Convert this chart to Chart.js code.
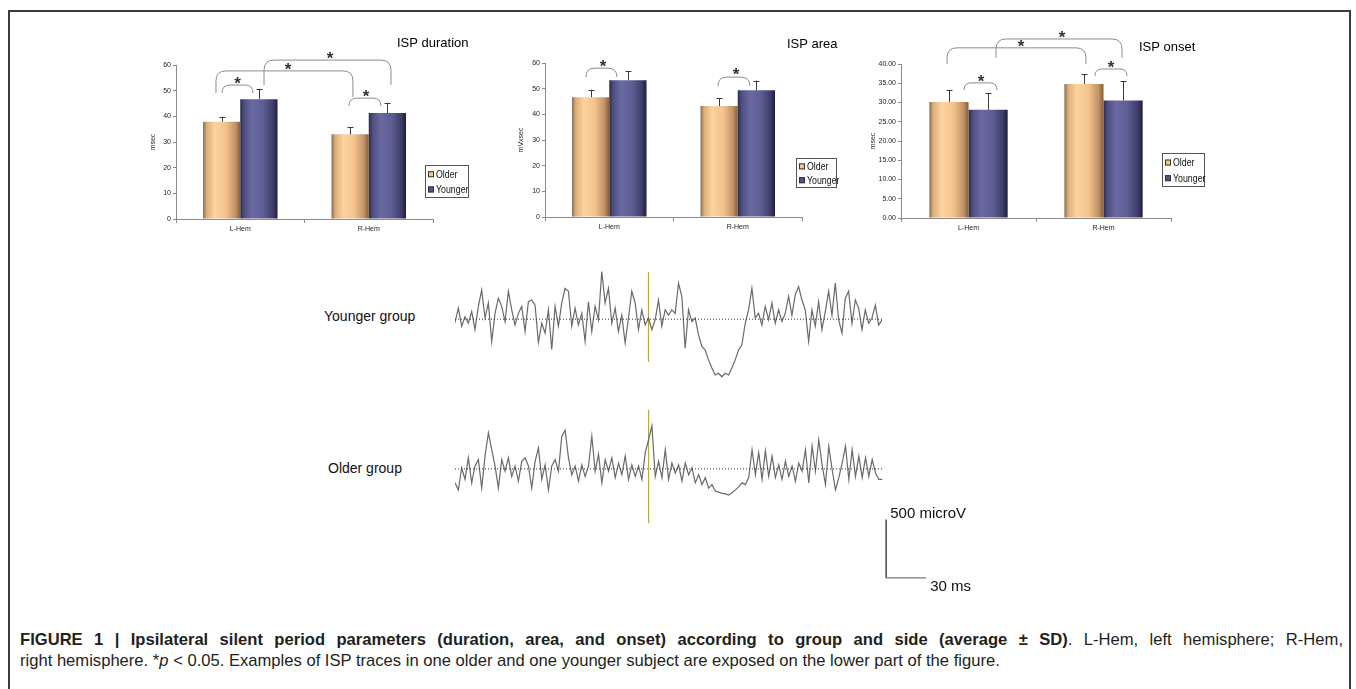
<!DOCTYPE html>
<html><head><meta charset="utf-8">
<script src="https://cdn.jsdelivr.net/npm/chart.js@4.4.1/dist/chart.umd.min.js"></script>
<style>
html,body{margin:0;padding:0;background:#fff;width:1356px;height:689px;overflow:hidden;font-family:"Liberation Sans",Arial,sans-serif;}
#frame{position:absolute;left:8px;top:10px;width:1343px;height:700px;border:2px solid #3c3c3c;box-sizing:border-box;}
.c{position:absolute;}
.lbl{position:absolute;font-size:14px;color:#111;white-space:nowrap;line-height:16px;}
.cap{position:absolute;left:20px;font-size:16.6px;color:#231f20;white-space:nowrap;line-height:19px;}
#cap1{width:1323px;text-align:justify;text-align-last:justify;white-space:normal;}
</style></head>
<body>
<div id="frame"></div>
<canvas id="c1" class="c" width="340" height="220" style="left:140px;top:20px"></canvas>
<canvas id="c2" class="c" width="340" height="220" style="left:505px;top:20px"></canvas>
<canvas id="c3" class="c" width="370" height="230" style="left:850px;top:10px"></canvas>
<canvas id="t1" class="c" width="427" height="128" style="left:455px;top:261px"></canvas>
<canvas id="t2" class="c" width="534" height="191" style="left:455px;top:406px"></canvas>
<div class="lbl" style="left:324px;top:308px">Younger group</div>
<div class="lbl" style="left:328px;top:460px">Older group</div>
<div id="cap1" class="cap" style="top:630px"><b>FIGURE 1 | Ipsilateral silent period parameters (duration, area, and onset) according to group and side (average ± SD)</b>. L-Hem, left hemisphere; R-Hem,</div>
<div class="cap" style="top:651px">right hemisphere. *<i>p</i> &lt; 0.05. Examples of ISP traces in one older and one younger subject are exposed on the lower part of the figure.</div>
<script>
// ---------- data ----------
const categories = ['L-Hem', 'R-Hem'];
const seriesNames = ['Older', 'Younger'];

const durationOlder = [37.9, 33.0];
const durationOlderSD = [2.0, 2.7];
const durationYounger = [46.7, 41.3];
const durationYoungerSD = [3.8, 4.0];
const durationTicks = [0, 10, 20, 30, 40, 50, 60];
const durationTickLabels = ['0', '10', '20', '30', '40', '50', '60'];

const areaOlder = [46.7, 43.2];
const areaOlderSD = [2.9, 3.0];
const areaYounger = [53.3, 49.4];
const areaYoungerSD = [3.6, 3.7];
const areaTicks = [0, 10, 20, 30, 40, 50, 60];
const areaTickLabels = ['0', '10', '20', '30', '40', '50', '60'];

const onsetOlder = [30.1, 34.8];
const onsetOlderSD = [3.2, 2.5];
const onsetYounger = [28.1, 30.5];
const onsetYoungerSD = [4.3, 5.1];
const onsetTicks = [0, 5, 10, 15, 20, 25, 30, 35, 40];
const onsetTickLabels = ['0.00', '5.00', '10.00', '15.00', '20.00', '25.00', '30.00', '35.00', '40.00'];

// EMG traces (microV), one sample every 2.5 ms
const traceStepMs = 2.5;
const youngerTrace = [-30,95,-60,20,-35,65,-90,110,250,10,
 140,-190,50,180,110,-20,240,80,-50,50,
 110,-105,150,165,120,-200,-35,-120,80,-260,
 110,-60,140,265,240,-60,95,-50,50,-190,
 150,-105,110,-5,410,140,265,-35,95,-105,
 35,-205,10,240,140,-90,80,-50,10,-90,
 -5,165,-60,80,35,80,50,310,195,-250,
 80,-20,10,-135,-235,-265,-350,-420,-480,-465,
 -495,-465,-480,-420,-350,-265,-220,-35,80,265,
 10,50,-50,110,-5,140,-35,80,-20,50,
 195,35,210,280,165,80,-190,80,-60,150,
 -90,65,240,35,310,-5,-120,180,240,-35,
 165,95,-90,80,-35,10,120,-50,-5];
const olderTrace = [-120,-180,10,-90,95,-120,25,80,-165,110,
 310,165,25,-165,80,-20,95,-65,25,-105,
 65,95,25,-165,65,180,-90,35,-180,25,
 80,-20,280,333,95,-50,25,-105,35,-65,
 25,280,-20,125,-120,80,-20,95,-75,50,
 -50,110,-90,35,-65,25,-90,140,250,370,
 -65,65,-75,165,-90,50,-35,35,-105,50,
 -50,10,-120,-50,-135,-75,-165,-135,-190,-200,
 -210,-215,-225,-205,-180,-155,-120,-135,-75,165,
 -50,140,-90,155,-65,110,-75,35,-90,65,
 -65,25,-105,50,-20,165,-120,195,-20,250,
 35,-135,195,-5,-180,-75,50,195,-90,165,
 -65,110,-75,95,-65,80,-35,-90,-90];
const stimulusMs = 145;
const youngerStimLine = [404, -369];
const olderStimLine = [507, -464];
const scaleBarMicroV = 500;
const scaleBarMs = 30;

// ---------- styles ----------
Chart.defaults.font.family = '"Liberation Sans", Arial, sans-serif';
Chart.defaults.animation = false;
const CAT_PCT = 0.58;
const olderStops = [[0,'#8f6d4a'],[0.1,'#dcae7a'],[0.32,'#fdd3a0'],[0.62,'#f3c28c'],[0.88,'#c09064'],[1,'#7d5f40']];
const youngerStops = [[0,'#2b2b4c'],[0.1,'#4d4d82'],[0.32,'#6a6aa2'],[0.62,'#5d5d94'],[0.88,'#3d3d68'],[1,'#1f1f36']];
const legendColors = ['#f7c68e', '#55558c'];

function barGradient(c, stops) {
  const chart = c.chart, ca = chart.chartArea;
  if (!ca || c.dataIndex === undefined) return stops[2][1];
  const xs = chart.scales.x;
  const center = xs.getPixelForValue(c.dataIndex);
  const catW = (ca.right - ca.left) / chart.data.labels.length;
  const bw = catW * CAT_PCT / 2;
  const left = c.datasetIndex === 0 ? center - bw : center;
  const g = chart.ctx.createLinearGradient(left, 0, left + bw, 0);
  stops.forEach(s => g.addColorStop(s[0], s[1]));
  return g;
}

const barDecor = {
  id: 'barDecor',
  afterDatasetsDraw(chart, args, opts) {
    const ctx = chart.ctx, xs = chart.scales.x, ys = chart.scales.y;
    ctx.save();
    // error bars
    ctx.strokeStyle = '#3a3a3a'; ctx.lineWidth = 1;
    chart.data.datasets.forEach((ds, di) => {
      chart.getDatasetMeta(di).data.forEach((el, i) => {
        const top = ys.getPixelForValue(ds.data[i] + ds.sd[i]);
        const x = Math.round(el.x) + 0.5;
        ctx.beginPath(); ctx.moveTo(x, el.y); ctx.lineTo(x, top);
        ctx.moveTo(x - 3, Math.round(top) + 0.5); ctx.lineTo(x + 3, Math.round(top) + 0.5); ctx.stroke();
      });
    });
    // significance brackets
    ctx.strokeStyle = '#8c8c8c'; ctx.lineWidth = 1;
    (opts.brackets || []).forEach(b => {
      const x1 = xs.getPixelForValue(b[0]), x2 = xs.getPixelForValue(b[1]);
      const yb1 = ys.getPixelForValue(b[2]), yt = ys.getPixelForValue(b[3]), yb2 = ys.getPixelForValue(b[4]);
      const r1 = Math.min(10, yb1 - yt, (x2 - x1) / 2), r2 = Math.min(10, yb2 - yt, (x2 - x1) / 2);
      ctx.beginPath(); ctx.moveTo(x1, yb1); ctx.lineTo(x1, yt + r1);
      ctx.quadraticCurveTo(x1, yt, x1 + r1, yt); ctx.lineTo(x2 - r2, yt);
      ctx.quadraticCurveTo(x2, yt, x2, yt + r2); ctx.lineTo(x2, yb2); ctx.stroke();
      ctx.fillStyle = '#333'; ctx.font = 'bold 17px "Liberation Sans", Arial';
      ctx.textAlign = 'center'; ctx.textBaseline = 'alphabetic';
      ctx.fillText('*', xs.getPixelForValue(b[5]), ys.getPixelForValue(b[6]) + 0.57 * 17);
    });
    // title
    if (opts.title) {
      ctx.fillStyle = '#000'; ctx.font = '13px "Liberation Sans", Arial';
      ctx.textAlign = 'left'; ctx.textBaseline = 'middle';
      ctx.fillText(opts.title.text, opts.title.x, opts.title.y);
    }
    // legend box
    if (opts.legend) {
      const L = opts.legend;
      ctx.fillStyle = '#fff'; ctx.fillRect(L.x, L.y, L.w, L.h);
      ctx.strokeStyle = '#555'; ctx.lineWidth = 1;
      ctx.strokeRect(L.x + 0.5, L.y + 0.5, L.w - 1, L.h - 1);
      chart.data.datasets.forEach((ds, di) => {
        const cy = L.y + L.h * (di === 0 ? 0.28 : 0.74);
        ctx.fillStyle = legendColors[di];
        ctx.fillRect(L.x + 3, cy - 3, 6, 6);
        ctx.strokeStyle = '#333'; ctx.strokeRect(L.x + 3.5, cy - 2.5, 5, 5);
        ctx.save();
        ctx.translate(L.x + 11, cy + 0.5);
        ctx.scale(0.8, 1);
        ctx.font = '11px "Liberation Sans", Arial';
        ctx.textAlign = 'left'; ctx.textBaseline = 'middle';
        ctx.fillStyle = '#111'; ctx.fillText(ds.label, 0, 0);
        ctx.restore();
      });
    }
    ctx.restore();
  }
};

function makeBar(id, older, olderSD, younger, youngerSD, tickVals, tickLabels, yMax, yTitle, pad, yWidth, deco) {
  return new Chart(document.getElementById(id), {
    type: 'bar',
    data: {
      labels: categories,
      datasets: [
        { label: seriesNames[0], data: older, sd: olderSD, backgroundColor: c => barGradient(c, olderStops), borderWidth: 0, categoryPercentage: CAT_PCT, barPercentage: 1 },
        { label: seriesNames[1], data: younger, sd: youngerSD, backgroundColor: c => barGradient(c, youngerStops), borderWidth: 0, categoryPercentage: CAT_PCT, barPercentage: 1 }
      ]
    },
    options: {
      responsive: false, devicePixelRatio: 1, animation: false,
      layout: { padding: pad },
      plugins: { legend: { display: false }, tooltip: { enabled: false }, barDecor: deco },
      scales: {
        x: {
          afterFit: s => { s.height = 16; },
          ticks: { font: { size: 7 }, color: '#222', padding: 2 },
          grid: { drawOnChartArea: false, tickLength: 4, color: '#8a8a8a', offset: true },
          border: { color: '#8a8a8a' }
        },
        y: {
          min: 0, max: yMax,
          afterBuildTicks: s => { s.ticks = tickVals.map(v => ({ value: v })); },
          afterFit: s => { s.width = yWidth; },
          ticks: { font: { size: 7 }, color: '#222', padding: 2, callback: (v, i) => tickLabels[i] },
          grid: { drawOnChartArea: false, tickLength: 3, color: '#8a8a8a' },
          border: { color: '#8a8a8a' },
          title: { display: true, text: yTitle, font: { size: 7 }, color: '#222', padding: 0 }
        }
      }
    },
    plugins: [barDecor]
  });
}

makeBar('c1', durationOlder, durationOlderSD, durationYounger, durationYoungerSD, durationTicks, durationTickLabels, 60, 'msec',
  { left: 9, top: 45, right: 47, bottom: 5 }, 27,
  { title: { text: 'ISP duration', x: 257, y: 23 }, legend: { x: 285, y: 145, w: 44, h: 33 },
    brackets: [
      [-0.142, 0.099, 49.1, 52.2, 49.1, -0.02, 54.5],
      [-0.189, 0.877, 49.1, 57.7, 47.5, 0.372, 59.8],
      [0.185, 1.173, 52.2, 61.9, 52.2, 0.698, 64.3],
      [0.846, 1.095, 44.0, 47.1, 44.0, 0.979, 49.5]
    ] });

makeBar('c2', areaOlder, areaOlderSD, areaYounger, areaYoungerSD, areaTicks, areaTickLabels, 60, 'mVxsec',
  { left: 12, top: 43, right: 43, bottom: 7 }, 28,
  { title: { text: 'ISP area', x: 282, y: 24 }, legend: { x: 291, y: 138, w: 41, h: 30 },
    brackets: [
      [-0.181, 0.060, 54.5, 58.0, 54.5, -0.049, 60.4],
      [0.846, 1.095, 51.0, 54.5, 51.0, 0.986, 57.3]
    ] });

makeBar('c3', onsetOlder, onsetOlderSD, onsetYounger, onsetYoungerSD, onsetTicks, onsetTickLabels, 40, 'msec',
  { left: 19, top: 54, right: 49, bottom: 6 }, 32,
  { title: { text: 'ISP onset', x: 289, y: 37 }, legend: { x: 312, y: 143, w: 43, h: 34 },
    brackets: [
      [-0.159, 0.870, 40.0, 44.2, 40.0, 0.389, 45.6],
      [0.204, 1.137, 41.6, 46.5, 41.6, 0.693, 47.9],
      [-0.033, 0.211, 33.2, 35.1, 33.2, 0.093, 36.5],
      [0.937, 1.174, 36.9, 38.7, 36.9, 1.056, 40.3]
    ] });

// ---------- traces ----------
const traceLabels = {
  id: 'traceLabels',
  afterDatasetsDraw(chart, args, opts) {
    const ctx = chart.ctx, xs = chart.scales.x, ys = chart.scales.y;
    ctx.save();
    ctx.fillStyle = '#111'; ctx.font = '15px "Liberation Sans", Arial';
    ctx.textAlign = 'left'; ctx.textBaseline = 'middle';
    (opts.items || []).forEach(t => {
      ctx.fillText(t.text, xs.getPixelForValue(t.x) + t.dx, ys.getPixelForValue(t.y) + t.dy);
    });
    ctx.restore();
  }
};

function toPoints(arr) { return arr.map((v, i) => ({ x: i * traceStepMs, y: v })); }

function makeTrace(id, trace, stim, xMax, yMin, yMax, extra, labels) {
  const endMs = (trace.length - 1) * traceStepMs;
  const datasets = [
    { data: [{ x: 0, y: 0 }, { x: endMs, y: 0 }], borderColor: '#333', borderWidth: 1, borderDash: [1, 2], pointRadius: 0 },
    { data: toPoints(trace), borderColor: '#6a6a6a', borderWidth: 1.2, pointRadius: 0, tension: 0 },
    { data: [{ x: stimulusMs, y: stim[0] }, { x: stimulusMs, y: stim[1] }], borderColor: '#b0aa50', borderWidth: 1.2, pointRadius: 0 }
  ].concat(extra);
  return new Chart(document.getElementById(id), {
    type: 'line',
    data: { datasets: datasets.map(d => Object.assign({ clip: false, fill: false }, d)) },
    options: {
      responsive: false, devicePixelRatio: 1, animation: false,
      layout: { padding: 0 },
      plugins: { legend: { display: false }, tooltip: { enabled: false }, traceLabels: { items: labels } },
      scales: {
        x: { type: 'linear', min: 0, max: xMax, display: false },
        y: { min: yMin, max: yMax, display: false }
      }
    },
    plugins: [traceLabels]
  });
}

makeTrace('t1', youngerTrace, youngerStimLine, 320, -600, 500, [], []);
const barX = 323, barTop = -436;
makeTrace('t2', olderTrace, olderStimLine, 400, -1100, 540, [
  { data: [{ x: barX, y: barTop }, { x: barX, y: barTop - scaleBarMicroV }, { x: barX + scaleBarMs, y: barTop - scaleBarMicroV }], borderColor: '#555', borderWidth: 1, pointRadius: 0 }
], [
  { text: scaleBarMicroV + ' microV', x: barX, y: barTop, dx: 4, dy: -6 },
  { text: scaleBarMs + ' ms', x: barX + scaleBarMs, y: barTop - scaleBarMicroV, dx: 4, dy: 9 }
]);
</script>
</body></html>
